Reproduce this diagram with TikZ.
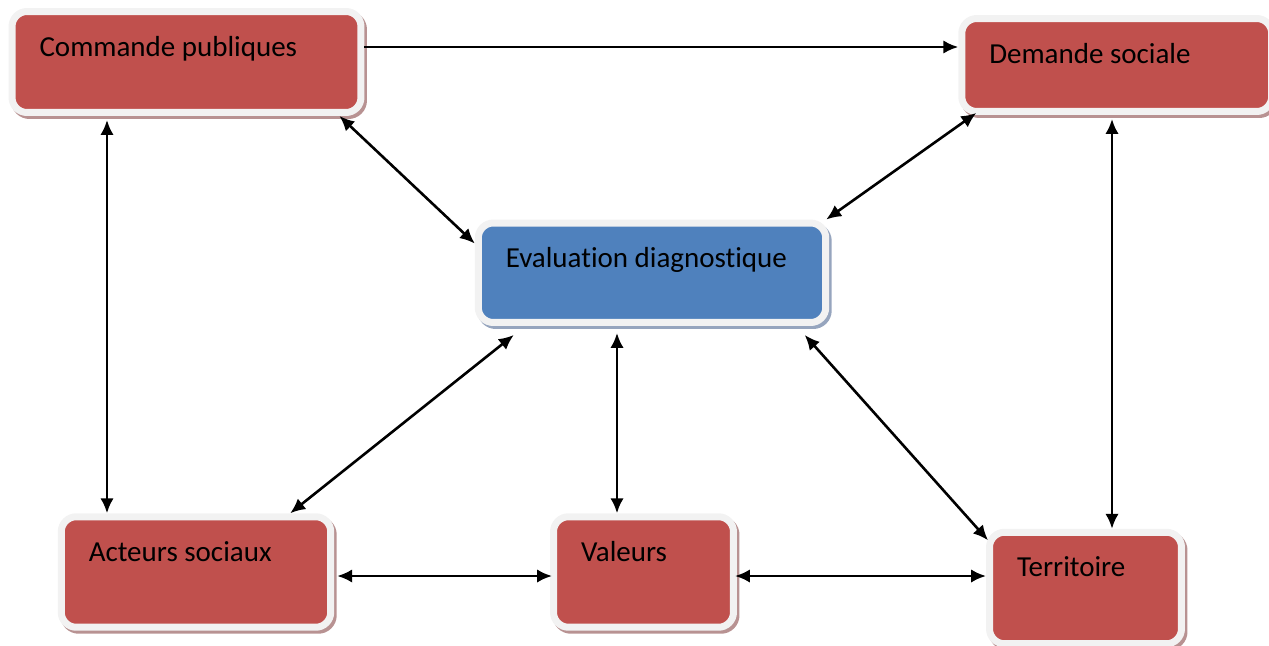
\documentclass[tikz,border=0pt]{standalone}
\usepackage{fontspec}
\setmainfont{Carlito}[Ligatures = NoCommon]
\usetikzlibrary{arrows.meta}
\definecolor{boxred}{RGB}{192,80,77}
\definecolor{boxblue}{RGB}{79,129,189}
\definecolor{rim}{RGB}{242,242,242}
\definecolor{redshade}{RGB}{184,146,146}
\definecolor{blueshade}{RGB}{150,165,190}
\tikzset{
  bloc/.style = {draw = rim, line width = 0.14cm, rounded corners = 0.3cm, inner sep = 0pt},
  rouge/.style = {bloc, fill = boxred, preaction = {draw = redshade, line width = 0.14cm, transform canvas = {shift = {(0.05cm,-0.06cm)}}}},
  bleu/.style = {bloc, fill = boxblue, preaction = {draw = blueshade, line width = 0.14cm, transform canvas = {shift = {(0.05cm,-0.06cm)}}}},
  titre/.style = {anchor = base west, shift = {(31,48)}, inner sep = 0pt, outer sep = 0pt, font = \fontsize{16.5}{19}\selectfont}
}
\begin{document}
\begin{tikzpicture}[x = 0.02cm, y = -0.02cm, >={Latex[length=0.3cm,width=0.27cm]}, line width = 0.052cm]
\useasboundingbox (0,0) rectangle (1269,646);
\node[rouge, minimum width = 6.98cm, minimum height = 2.02cm, label = {[titre]north west:Commande publiques}] (cp) at (186.5,62) {};
\node[rouge, minimum width = 6.2cm, minimum height = 1.86cm, label = {[titre]north west:Demande sociale}] (ds) at (1116.75,65) {};
\node[bleu, minimum width = 6.95cm, minimum height = 1.99cm, label = {[titre]north west:Evaluation diagnostique}] (ev) at (652,272.75) {};
\node[rouge, minimum width = 5.39cm, minimum height = 2.21cm, label = {[titre]north west:Acteurs sociaux}] (as) at (196,572) {};
\node[rouge, minimum width = 3.6cm, minimum height = 2.21cm, label = {[titre]north west:Valeurs}] (va) at (643.5,572) {};
\node[rouge, minimum width = 3.84cm, minimum height = 2.23cm, label = {[titre]north west:Territoire}] (te) at (1085.5,588) {};
\draw[->] ([shift = {(0,-15)}]cp.east) -- ([shift = {(0,-15)}]cp.east -| ds.west);
\draw[<->] ([shift = {(-25,0)}]cp.south east) -- ([shift = {(0,24)}]ev.north west);
\draw[<->] ([shift = {(18,-2)}]ds.south west) -- ([shift = {(-3,0)}]ev.north east);
\draw[<->] ([shift = {(0,4)}]107,0 |- cp.south) -- (107,0 |- as.north);
\draw[<->] ([shift = {(0,4)}]1112,0 |- ds.south) -- (1112,0 |- te.north);
\draw[<->] ([shift = {(39,9)}]ev.south west) -- ([shift = {(-44,0)}]as.north east);
\draw[<->] ([shift = {(-35,7)}]ev.south) -- ([shift = {(-26.5,0)}]va.north);
\draw[<->] ([shift = {(-24.5,9)}]ev.south east) -- ([shift = {(2,11.5)}]te.north west);
\draw[<->] ([shift = {(3,4)}]as.east) -- ([shift = {(2,4)}]va.west);
\draw[<->] ([shift = {(-2,4)}]va.east) -- ([shift = {(0,-12)}]te.west);
\end{tikzpicture}
\end{document}
